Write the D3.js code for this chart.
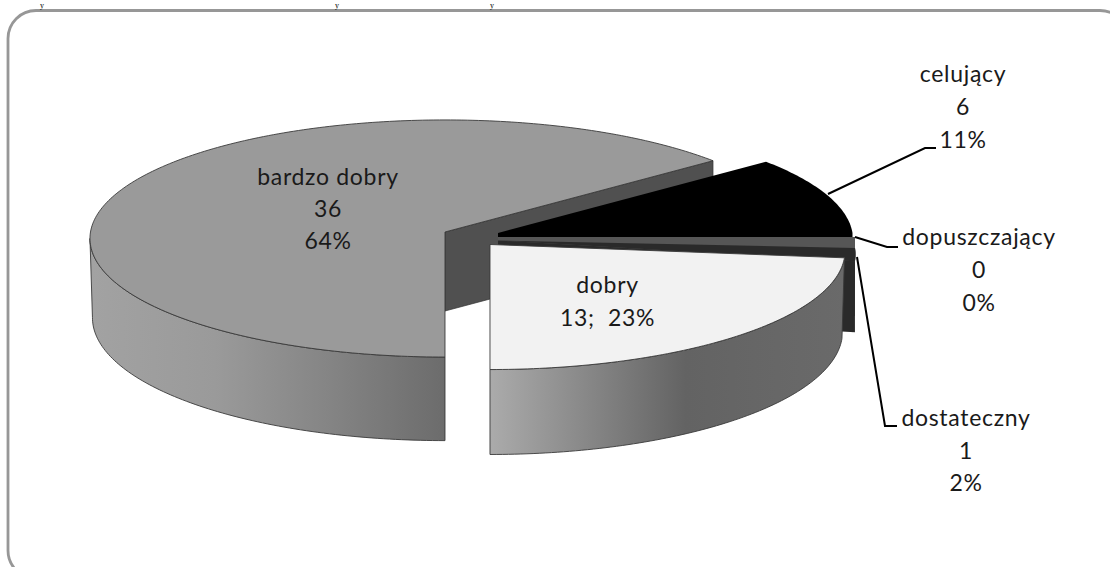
<!DOCTYPE html>
<html><head><meta charset="utf-8">
<script src="https://cdn.jsdelivr.net/npm/d3@7/dist/d3.min.js"></script>
<style>html,body{margin:0;padding:0;background:#fff;overflow:hidden}svg{display:block}text{font-family:Lato,"Open Sans",sans-serif;fill:#1a1a1a;white-space:pre}</style>
</head><body><svg id="c" width="1110" height="567"></svg>
<script>
// data
const categories = ["celujący","dopuszczający","dostateczny","dobry","bardzo dobry"];
const counts = [6,0,1,13,36];
const percents = ["11%","0%","2%","23%","64%"];
const labelLines = [
  ["celujący","6","11%"],
  ["dopuszczający","0","0%"],
  ["dostateczny","1","2%"],
  ["dobry","13;  23%"],
  ["bardzo dobry","36","64%"]
];

// layout
const W=1110,H=567;
const rx=354.5, ry=118.2, k=0.0547, rot=51.43*Math.PI/180, BOTTOM=0.993;
const FONT=23;
const sliceLayout = {
  "celujący":     {ax:498,ay:233,cx:498,cy:233,depth:79,top:"#000"},
  "dostateczny":  {ax:498,ay:240.5,cx:500.5,cy:248,depth:71,top:"#2a2a2a",side:"#2a2a2a"},
  "dobry":        {ax:490,ay:244.5,cx:490,cy:244.5,depth:80.3,top:"#f2f2f2",side:"url(#gDobry)"},
  "bardzo dobry": {ax:445,ay:232,cx:445,cy:232,depth:79,top:"#9a9a9a",side:"url(#gBig)",cut:"#505050"}
};
const labelPos = [[963,82],[979,245],[966,426],[607.5,293],[328,185]];
const lineStep = [33,33,32.5,33,32];
const leaders = [
  [[828,194],[925,148],[936,148]],
  [[855,237],[887,247],[898,247]],
  [[857,257],[885,426],[897,426]]
];
const cutGlyphs = [42,337,492];

const svg=d3.select("#c");
const defs=svg.append("defs");
function grad(id,x1,x2,stops){
  const g=defs.append("linearGradient").attr("id",id).attr("gradientUnits","userSpaceOnUse")
    .attr("x1",x1).attr("x2",x2).attr("y1",0).attr("y2",0);
  stops.forEach(s=>g.append("stop").attr("offset",s[0]).attr("stop-color",s[1]));
}
grad("gBig",92,445,[[0,"#a2a2a2"],[.35,"#9a9a9a"],[.65,"#868686"],[1,"#6c6c6c"]]);
grad("gDobry",490,846,[[0,"#ababab"],[.55,"#636363"],[1,"#6a6a6a"]]);

// frame and the remains of the text above it
svg.append("rect").attr("x",8).attr("y",10.5).attr("width",1120).attr("height",568).attr("rx",28)
  .attr("fill","#fff").attr("stroke","#979797").attr("stroke-width",2.8);
svg.selectAll("text.cut").data(cutGlyphs).join("text").attr("class","cut")
  .attr("x",d=>d).attr("y",7.5).attr("text-anchor","middle")
  .style("font-family","Liberation Serif").style("font-size","8px").style("fill","#000").text("y");

// pie angles
const arcs=d3.pie().sort(null).startAngle(rot).endAngle(rot+2*Math.PI)(counts);
const byName=Object.fromEntries(categories.map((c,i)=>[c,arcs[i]]));

function proj(a,L,low){
  const u=Math.sin(a),v=-Math.cos(a),s=1/(1-k*v);
  let x=L.cx+rx*u*s,y=L.cy+ry*v*s;
  if(low){x=L.cx+(x-L.cx)*BOTTOM;y+=L.depth*s;}
  return [x,y];
}
function rim(a0,a1,L,low){
  const n=Math.max(4,Math.ceil(Math.abs(a1-a0)*60));
  return d3.range(n+1).map(i=>proj(a0+(a1-a0)*i/n,L,low));
}
const line=d3.line();
const EDGE="#3a3a3a";

function topFace(a,L,stroke){
  return svg.append("path").attr("d",line([[L.ax,L.ay],...rim(a.startAngle,a.endAngle,L)])+"Z")
    .attr("fill",L.top).attr("stroke",stroke||"none").attr("stroke-width",.9);
}
function sideFace(a0,a1,L){
  return svg.append("path").attr("d",line([...rim(a0,a1,L),...rim(a1,a0,L,true)])+"Z")
    .attr("fill",L.side).attr("stroke",EDGE).attr("stroke-width",.9);
}
function cutFace(a,L,fill,dx,dy){
  const p=proj(a,L);
  const q=[p[0]+(dx||0),p[1]+(dy||0)];
  const A=[L.ax,L.ay+(dy||0)];
  return svg.append("path").attr("d",line([A,q,[q[0],q[1]+L.depth],[A[0],A[1]+L.depth]])+"Z").attr("fill",fill);
}

// bardzo dobry
const big=byName["bardzo dobry"], LB=sliceLayout["bardzo dobry"];
const aLeft=Math.PI*2-Math.acos(-k); // silhouette of the rim on the left
cutFace(big.endAngle-2*Math.PI,LB,LB.cut).attr("stroke","#333").attr("stroke-width",.7);
sideFace(big.startAngle,aLeft,LB);
topFace(big,LB,EDGE);

// celujący
const cel=byName["celujący"], LC=sliceLayout["celujący"];
topFace(cel,LC);
cutFace(cel.endAngle,LC,"#000");
cutFace(cel.endAngle,LC,"#565656",2.5,4);

// dostateczny
const dst=byName["dostateczny"], LD=sliceLayout["dostateczny"];
cutFace(dst.endAngle,LD,"#2a2a2a");
sideFace(dst.startAngle,dst.endAngle,LD).attr("stroke","none");
topFace(dst,LD);

// dobry
const dob=byName["dobry"], LG=sliceLayout["dobry"];
sideFace(dob.startAngle,dob.endAngle,LG);
topFace(dob,LG,EDGE);

// leaders
svg.selectAll("path.leader").data(leaders).join("path").attr("class","leader")
  .attr("d",d=>line(d)).attr("fill","none").attr("stroke","#000").attr("stroke-width",2);

// labels
labelLines.forEach((lines,i)=>{
  lines.forEach((t,j)=>{
    svg.append("text").attr("x",labelPos[i][0]).attr("y",labelPos[i][1]+j*lineStep[i])
      .attr("text-anchor","middle").style("font-size",FONT+"px").style("letter-spacing","0.7px").text(t);
  });
});
</script></body></html>
